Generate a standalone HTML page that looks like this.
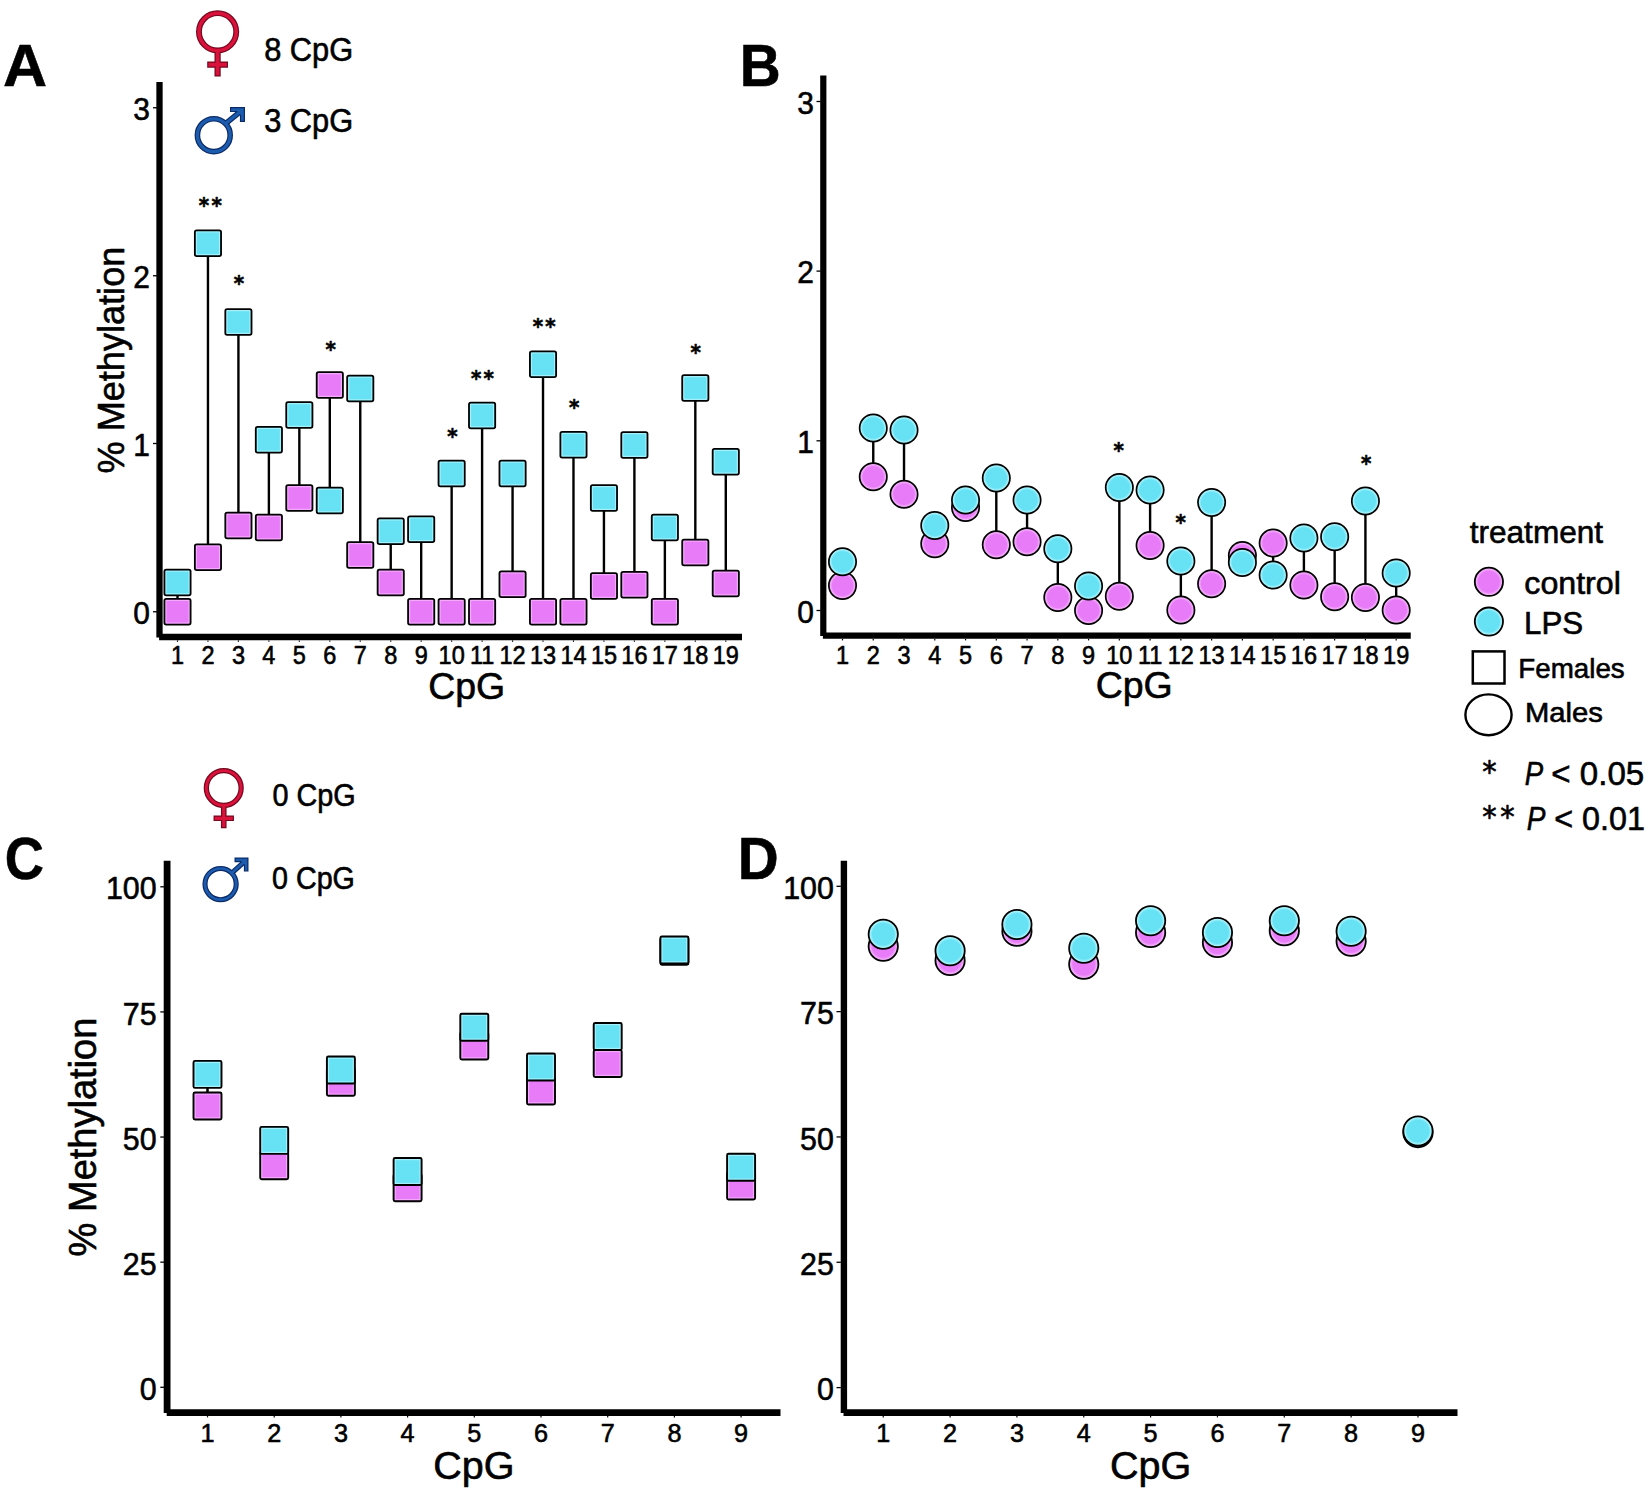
<!DOCTYPE html>
<html lang="en"><head><meta charset="utf-8"><title>CpG methylation figure</title>
<style>html,body{margin:0;padding:0;background:#fff}svg{display:block}text{fill:#000;stroke:#000;stroke-width:.6px;stroke-linejoin:round}</style></head>
<body>
<svg width="1649" height="1492" viewBox="0 0 1649 1492">
<rect width="1649" height="1492" fill="#fff"/>
<defs>
<radialGradient id="gc"><stop offset="0" stop-color="#66e2f4"/><stop offset=".74" stop-color="#66e2f4"/><stop offset=".9" stop-color="#a8f3fb"/><stop offset="1" stop-color="#a8f3fb"/></radialGradient>
<radialGradient id="gm"><stop offset="0" stop-color="#e87cf8"/><stop offset=".74" stop-color="#e87cf8"/><stop offset=".9" stop-color="#f4aefb"/><stop offset="1" stop-color="#f4aefb"/></radialGradient>
</defs>
<g id="panelA">
<line x1="177.50" y1="582.50" x2="177.50" y2="611.75" stroke="#000" stroke-width="2.4" stroke-linecap="butt"/>
<line x1="207.96" y1="243.20" x2="207.96" y2="557.25" stroke="#000" stroke-width="2.4" stroke-linecap="butt"/>
<line x1="238.42" y1="322.00" x2="238.42" y2="525.50" stroke="#000" stroke-width="2.4" stroke-linecap="butt"/>
<line x1="268.88" y1="439.75" x2="268.88" y2="527.50" stroke="#000" stroke-width="2.4" stroke-linecap="butt"/>
<line x1="299.34" y1="415.00" x2="299.34" y2="498.00" stroke="#000" stroke-width="2.4" stroke-linecap="butt"/>
<line x1="329.80" y1="500.50" x2="329.80" y2="385.00" stroke="#000" stroke-width="2.4" stroke-linecap="butt"/>
<line x1="360.26" y1="388.50" x2="360.26" y2="555.00" stroke="#000" stroke-width="2.4" stroke-linecap="butt"/>
<line x1="390.72" y1="531.25" x2="390.72" y2="582.50" stroke="#000" stroke-width="2.4" stroke-linecap="butt"/>
<line x1="421.18" y1="529.25" x2="421.18" y2="611.75" stroke="#000" stroke-width="2.4" stroke-linecap="butt"/>
<line x1="451.64" y1="473.50" x2="451.64" y2="611.75" stroke="#000" stroke-width="2.4" stroke-linecap="butt"/>
<line x1="482.10" y1="415.50" x2="482.10" y2="611.75" stroke="#000" stroke-width="2.4" stroke-linecap="butt"/>
<line x1="512.56" y1="473.50" x2="512.56" y2="584.25" stroke="#000" stroke-width="2.4" stroke-linecap="butt"/>
<line x1="543.02" y1="364.25" x2="543.02" y2="611.75" stroke="#000" stroke-width="2.4" stroke-linecap="butt"/>
<line x1="573.48" y1="444.75" x2="573.48" y2="611.75" stroke="#000" stroke-width="2.4" stroke-linecap="butt"/>
<line x1="603.94" y1="498.00" x2="603.94" y2="586.00" stroke="#000" stroke-width="2.4" stroke-linecap="butt"/>
<line x1="634.40" y1="445.00" x2="634.40" y2="584.75" stroke="#000" stroke-width="2.4" stroke-linecap="butt"/>
<line x1="664.86" y1="527.50" x2="664.86" y2="611.75" stroke="#000" stroke-width="2.4" stroke-linecap="butt"/>
<line x1="695.32" y1="388.00" x2="695.32" y2="552.50" stroke="#000" stroke-width="2.4" stroke-linecap="butt"/>
<line x1="725.78" y1="461.75" x2="725.78" y2="583.50" stroke="#000" stroke-width="2.4" stroke-linecap="butt"/>
<rect x="164.40" y="598.85" width="26.2" height="25.8" rx="1.8" fill="#e87cf8"/>
<rect x="165.90" y="600.35" width="23.20" height="22.80" fill="none" stroke="#f6b6fc" stroke-width="1.3" stroke-opacity=".8"/>
<rect x="164.40" y="598.85" width="26.2" height="25.8" rx="1.8" fill="none" stroke="#000" stroke-width="1.8"/>
<rect x="164.40" y="569.60" width="26.2" height="25.8" rx="1.8" fill="#66e2f4"/>
<rect x="165.90" y="571.10" width="23.20" height="22.80" fill="none" stroke="#b4f5fc" stroke-width="1.3" stroke-opacity=".8"/>
<rect x="164.40" y="569.60" width="26.2" height="25.8" rx="1.8" fill="none" stroke="#000" stroke-width="1.8"/>
<rect x="194.86" y="544.35" width="26.2" height="25.8" rx="1.8" fill="#e87cf8"/>
<rect x="196.36" y="545.85" width="23.20" height="22.80" fill="none" stroke="#f6b6fc" stroke-width="1.3" stroke-opacity=".8"/>
<rect x="194.86" y="544.35" width="26.2" height="25.8" rx="1.8" fill="none" stroke="#000" stroke-width="1.8"/>
<rect x="194.86" y="230.30" width="26.2" height="25.8" rx="1.8" fill="#66e2f4"/>
<rect x="196.36" y="231.80" width="23.20" height="22.80" fill="none" stroke="#b4f5fc" stroke-width="1.3" stroke-opacity=".8"/>
<rect x="194.86" y="230.30" width="26.2" height="25.8" rx="1.8" fill="none" stroke="#000" stroke-width="1.8"/>
<rect x="225.32" y="512.60" width="26.2" height="25.8" rx="1.8" fill="#e87cf8"/>
<rect x="226.82" y="514.10" width="23.20" height="22.80" fill="none" stroke="#f6b6fc" stroke-width="1.3" stroke-opacity=".8"/>
<rect x="225.32" y="512.60" width="26.2" height="25.8" rx="1.8" fill="none" stroke="#000" stroke-width="1.8"/>
<rect x="225.32" y="309.10" width="26.2" height="25.8" rx="1.8" fill="#66e2f4"/>
<rect x="226.82" y="310.60" width="23.20" height="22.80" fill="none" stroke="#b4f5fc" stroke-width="1.3" stroke-opacity=".8"/>
<rect x="225.32" y="309.10" width="26.2" height="25.8" rx="1.8" fill="none" stroke="#000" stroke-width="1.8"/>
<rect x="255.78" y="514.60" width="26.2" height="25.8" rx="1.8" fill="#e87cf8"/>
<rect x="257.28" y="516.10" width="23.20" height="22.80" fill="none" stroke="#f6b6fc" stroke-width="1.3" stroke-opacity=".8"/>
<rect x="255.78" y="514.60" width="26.2" height="25.8" rx="1.8" fill="none" stroke="#000" stroke-width="1.8"/>
<rect x="255.78" y="426.85" width="26.2" height="25.8" rx="1.8" fill="#66e2f4"/>
<rect x="257.28" y="428.35" width="23.20" height="22.80" fill="none" stroke="#b4f5fc" stroke-width="1.3" stroke-opacity=".8"/>
<rect x="255.78" y="426.85" width="26.2" height="25.8" rx="1.8" fill="none" stroke="#000" stroke-width="1.8"/>
<rect x="286.24" y="485.10" width="26.2" height="25.8" rx="1.8" fill="#e87cf8"/>
<rect x="287.74" y="486.60" width="23.20" height="22.80" fill="none" stroke="#f6b6fc" stroke-width="1.3" stroke-opacity=".8"/>
<rect x="286.24" y="485.10" width="26.2" height="25.8" rx="1.8" fill="none" stroke="#000" stroke-width="1.8"/>
<rect x="286.24" y="402.10" width="26.2" height="25.8" rx="1.8" fill="#66e2f4"/>
<rect x="287.74" y="403.60" width="23.20" height="22.80" fill="none" stroke="#b4f5fc" stroke-width="1.3" stroke-opacity=".8"/>
<rect x="286.24" y="402.10" width="26.2" height="25.8" rx="1.8" fill="none" stroke="#000" stroke-width="1.8"/>
<rect x="316.70" y="372.10" width="26.2" height="25.8" rx="1.8" fill="#e87cf8"/>
<rect x="318.20" y="373.60" width="23.20" height="22.80" fill="none" stroke="#f6b6fc" stroke-width="1.3" stroke-opacity=".8"/>
<rect x="316.70" y="372.10" width="26.2" height="25.8" rx="1.8" fill="none" stroke="#000" stroke-width="1.8"/>
<rect x="316.70" y="487.60" width="26.2" height="25.8" rx="1.8" fill="#66e2f4"/>
<rect x="318.20" y="489.10" width="23.20" height="22.80" fill="none" stroke="#b4f5fc" stroke-width="1.3" stroke-opacity=".8"/>
<rect x="316.70" y="487.60" width="26.2" height="25.8" rx="1.8" fill="none" stroke="#000" stroke-width="1.8"/>
<rect x="347.16" y="542.10" width="26.2" height="25.8" rx="1.8" fill="#e87cf8"/>
<rect x="348.66" y="543.60" width="23.20" height="22.80" fill="none" stroke="#f6b6fc" stroke-width="1.3" stroke-opacity=".8"/>
<rect x="347.16" y="542.10" width="26.2" height="25.8" rx="1.8" fill="none" stroke="#000" stroke-width="1.8"/>
<rect x="347.16" y="375.60" width="26.2" height="25.8" rx="1.8" fill="#66e2f4"/>
<rect x="348.66" y="377.10" width="23.20" height="22.80" fill="none" stroke="#b4f5fc" stroke-width="1.3" stroke-opacity=".8"/>
<rect x="347.16" y="375.60" width="26.2" height="25.8" rx="1.8" fill="none" stroke="#000" stroke-width="1.8"/>
<rect x="377.62" y="569.60" width="26.2" height="25.8" rx="1.8" fill="#e87cf8"/>
<rect x="379.12" y="571.10" width="23.20" height="22.80" fill="none" stroke="#f6b6fc" stroke-width="1.3" stroke-opacity=".8"/>
<rect x="377.62" y="569.60" width="26.2" height="25.8" rx="1.8" fill="none" stroke="#000" stroke-width="1.8"/>
<rect x="377.62" y="518.35" width="26.2" height="25.8" rx="1.8" fill="#66e2f4"/>
<rect x="379.12" y="519.85" width="23.20" height="22.80" fill="none" stroke="#b4f5fc" stroke-width="1.3" stroke-opacity=".8"/>
<rect x="377.62" y="518.35" width="26.2" height="25.8" rx="1.8" fill="none" stroke="#000" stroke-width="1.8"/>
<rect x="408.08" y="598.85" width="26.2" height="25.8" rx="1.8" fill="#e87cf8"/>
<rect x="409.58" y="600.35" width="23.20" height="22.80" fill="none" stroke="#f6b6fc" stroke-width="1.3" stroke-opacity=".8"/>
<rect x="408.08" y="598.85" width="26.2" height="25.8" rx="1.8" fill="none" stroke="#000" stroke-width="1.8"/>
<rect x="408.08" y="516.35" width="26.2" height="25.8" rx="1.8" fill="#66e2f4"/>
<rect x="409.58" y="517.85" width="23.20" height="22.80" fill="none" stroke="#b4f5fc" stroke-width="1.3" stroke-opacity=".8"/>
<rect x="408.08" y="516.35" width="26.2" height="25.8" rx="1.8" fill="none" stroke="#000" stroke-width="1.8"/>
<rect x="438.54" y="598.85" width="26.2" height="25.8" rx="1.8" fill="#e87cf8"/>
<rect x="440.04" y="600.35" width="23.20" height="22.80" fill="none" stroke="#f6b6fc" stroke-width="1.3" stroke-opacity=".8"/>
<rect x="438.54" y="598.85" width="26.2" height="25.8" rx="1.8" fill="none" stroke="#000" stroke-width="1.8"/>
<rect x="438.54" y="460.60" width="26.2" height="25.8" rx="1.8" fill="#66e2f4"/>
<rect x="440.04" y="462.10" width="23.20" height="22.80" fill="none" stroke="#b4f5fc" stroke-width="1.3" stroke-opacity=".8"/>
<rect x="438.54" y="460.60" width="26.2" height="25.8" rx="1.8" fill="none" stroke="#000" stroke-width="1.8"/>
<rect x="469.00" y="598.85" width="26.2" height="25.8" rx="1.8" fill="#e87cf8"/>
<rect x="470.50" y="600.35" width="23.20" height="22.80" fill="none" stroke="#f6b6fc" stroke-width="1.3" stroke-opacity=".8"/>
<rect x="469.00" y="598.85" width="26.2" height="25.8" rx="1.8" fill="none" stroke="#000" stroke-width="1.8"/>
<rect x="469.00" y="402.60" width="26.2" height="25.8" rx="1.8" fill="#66e2f4"/>
<rect x="470.50" y="404.10" width="23.20" height="22.80" fill="none" stroke="#b4f5fc" stroke-width="1.3" stroke-opacity=".8"/>
<rect x="469.00" y="402.60" width="26.2" height="25.8" rx="1.8" fill="none" stroke="#000" stroke-width="1.8"/>
<rect x="499.46" y="571.35" width="26.2" height="25.8" rx="1.8" fill="#e87cf8"/>
<rect x="500.96" y="572.85" width="23.20" height="22.80" fill="none" stroke="#f6b6fc" stroke-width="1.3" stroke-opacity=".8"/>
<rect x="499.46" y="571.35" width="26.2" height="25.8" rx="1.8" fill="none" stroke="#000" stroke-width="1.8"/>
<rect x="499.46" y="460.60" width="26.2" height="25.8" rx="1.8" fill="#66e2f4"/>
<rect x="500.96" y="462.10" width="23.20" height="22.80" fill="none" stroke="#b4f5fc" stroke-width="1.3" stroke-opacity=".8"/>
<rect x="499.46" y="460.60" width="26.2" height="25.8" rx="1.8" fill="none" stroke="#000" stroke-width="1.8"/>
<rect x="529.92" y="598.85" width="26.2" height="25.8" rx="1.8" fill="#e87cf8"/>
<rect x="531.42" y="600.35" width="23.20" height="22.80" fill="none" stroke="#f6b6fc" stroke-width="1.3" stroke-opacity=".8"/>
<rect x="529.92" y="598.85" width="26.2" height="25.8" rx="1.8" fill="none" stroke="#000" stroke-width="1.8"/>
<rect x="529.92" y="351.35" width="26.2" height="25.8" rx="1.8" fill="#66e2f4"/>
<rect x="531.42" y="352.85" width="23.20" height="22.80" fill="none" stroke="#b4f5fc" stroke-width="1.3" stroke-opacity=".8"/>
<rect x="529.92" y="351.35" width="26.2" height="25.8" rx="1.8" fill="none" stroke="#000" stroke-width="1.8"/>
<rect x="560.38" y="598.85" width="26.2" height="25.8" rx="1.8" fill="#e87cf8"/>
<rect x="561.88" y="600.35" width="23.20" height="22.80" fill="none" stroke="#f6b6fc" stroke-width="1.3" stroke-opacity=".8"/>
<rect x="560.38" y="598.85" width="26.2" height="25.8" rx="1.8" fill="none" stroke="#000" stroke-width="1.8"/>
<rect x="560.38" y="431.85" width="26.2" height="25.8" rx="1.8" fill="#66e2f4"/>
<rect x="561.88" y="433.35" width="23.20" height="22.80" fill="none" stroke="#b4f5fc" stroke-width="1.3" stroke-opacity=".8"/>
<rect x="560.38" y="431.85" width="26.2" height="25.8" rx="1.8" fill="none" stroke="#000" stroke-width="1.8"/>
<rect x="590.84" y="573.10" width="26.2" height="25.8" rx="1.8" fill="#e87cf8"/>
<rect x="592.34" y="574.60" width="23.20" height="22.80" fill="none" stroke="#f6b6fc" stroke-width="1.3" stroke-opacity=".8"/>
<rect x="590.84" y="573.10" width="26.2" height="25.8" rx="1.8" fill="none" stroke="#000" stroke-width="1.8"/>
<rect x="590.84" y="485.10" width="26.2" height="25.8" rx="1.8" fill="#66e2f4"/>
<rect x="592.34" y="486.60" width="23.20" height="22.80" fill="none" stroke="#b4f5fc" stroke-width="1.3" stroke-opacity=".8"/>
<rect x="590.84" y="485.10" width="26.2" height="25.8" rx="1.8" fill="none" stroke="#000" stroke-width="1.8"/>
<rect x="621.30" y="571.85" width="26.2" height="25.8" rx="1.8" fill="#e87cf8"/>
<rect x="622.80" y="573.35" width="23.20" height="22.80" fill="none" stroke="#f6b6fc" stroke-width="1.3" stroke-opacity=".8"/>
<rect x="621.30" y="571.85" width="26.2" height="25.8" rx="1.8" fill="none" stroke="#000" stroke-width="1.8"/>
<rect x="621.30" y="432.10" width="26.2" height="25.8" rx="1.8" fill="#66e2f4"/>
<rect x="622.80" y="433.60" width="23.20" height="22.80" fill="none" stroke="#b4f5fc" stroke-width="1.3" stroke-opacity=".8"/>
<rect x="621.30" y="432.10" width="26.2" height="25.8" rx="1.8" fill="none" stroke="#000" stroke-width="1.8"/>
<rect x="651.76" y="598.85" width="26.2" height="25.8" rx="1.8" fill="#e87cf8"/>
<rect x="653.26" y="600.35" width="23.20" height="22.80" fill="none" stroke="#f6b6fc" stroke-width="1.3" stroke-opacity=".8"/>
<rect x="651.76" y="598.85" width="26.2" height="25.8" rx="1.8" fill="none" stroke="#000" stroke-width="1.8"/>
<rect x="651.76" y="514.60" width="26.2" height="25.8" rx="1.8" fill="#66e2f4"/>
<rect x="653.26" y="516.10" width="23.20" height="22.80" fill="none" stroke="#b4f5fc" stroke-width="1.3" stroke-opacity=".8"/>
<rect x="651.76" y="514.60" width="26.2" height="25.8" rx="1.8" fill="none" stroke="#000" stroke-width="1.8"/>
<rect x="682.22" y="539.60" width="26.2" height="25.8" rx="1.8" fill="#e87cf8"/>
<rect x="683.72" y="541.10" width="23.20" height="22.80" fill="none" stroke="#f6b6fc" stroke-width="1.3" stroke-opacity=".8"/>
<rect x="682.22" y="539.60" width="26.2" height="25.8" rx="1.8" fill="none" stroke="#000" stroke-width="1.8"/>
<rect x="682.22" y="375.10" width="26.2" height="25.8" rx="1.8" fill="#66e2f4"/>
<rect x="683.72" y="376.60" width="23.20" height="22.80" fill="none" stroke="#b4f5fc" stroke-width="1.3" stroke-opacity=".8"/>
<rect x="682.22" y="375.10" width="26.2" height="25.8" rx="1.8" fill="none" stroke="#000" stroke-width="1.8"/>
<rect x="712.68" y="570.60" width="26.2" height="25.8" rx="1.8" fill="#e87cf8"/>
<rect x="714.18" y="572.10" width="23.20" height="22.80" fill="none" stroke="#f6b6fc" stroke-width="1.3" stroke-opacity=".8"/>
<rect x="712.68" y="570.60" width="26.2" height="25.8" rx="1.8" fill="none" stroke="#000" stroke-width="1.8"/>
<rect x="712.68" y="448.85" width="26.2" height="25.8" rx="1.8" fill="#66e2f4"/>
<rect x="714.18" y="450.35" width="23.20" height="22.80" fill="none" stroke="#b4f5fc" stroke-width="1.3" stroke-opacity=".8"/>
<rect x="712.68" y="448.85" width="26.2" height="25.8" rx="1.8" fill="none" stroke="#000" stroke-width="1.8"/>
<line x1="159.50" y1="82.00" x2="159.50" y2="637.40" stroke="#000" stroke-width="6.3"/>
<line x1="159.10" y1="637.00" x2="742.00" y2="637.00" stroke="#000" stroke-width="6.7"/>
<line x1="153.00" y1="611.75" x2="157.00" y2="611.75" stroke="#000" stroke-width="1.3" stroke-linecap="butt"/>
<line x1="153.00" y1="443.50" x2="157.00" y2="443.50" stroke="#000" stroke-width="1.3" stroke-linecap="butt"/>
<line x1="153.00" y1="275.75" x2="157.00" y2="275.75" stroke="#000" stroke-width="1.3" stroke-linecap="butt"/>
<line x1="153.00" y1="107.75" x2="157.00" y2="107.75" stroke="#000" stroke-width="1.3" stroke-linecap="butt"/>
<line x1="177.50" y1="640.40" x2="177.50" y2="641.80" stroke="#000" stroke-width="1.2" stroke-linecap="butt"/>
<line x1="207.96" y1="640.40" x2="207.96" y2="641.80" stroke="#000" stroke-width="1.2" stroke-linecap="butt"/>
<line x1="238.42" y1="640.40" x2="238.42" y2="641.80" stroke="#000" stroke-width="1.2" stroke-linecap="butt"/>
<line x1="268.88" y1="640.40" x2="268.88" y2="641.80" stroke="#000" stroke-width="1.2" stroke-linecap="butt"/>
<line x1="299.34" y1="640.40" x2="299.34" y2="641.80" stroke="#000" stroke-width="1.2" stroke-linecap="butt"/>
<line x1="329.80" y1="640.40" x2="329.80" y2="641.80" stroke="#000" stroke-width="1.2" stroke-linecap="butt"/>
<line x1="360.26" y1="640.40" x2="360.26" y2="641.80" stroke="#000" stroke-width="1.2" stroke-linecap="butt"/>
<line x1="390.72" y1="640.40" x2="390.72" y2="641.80" stroke="#000" stroke-width="1.2" stroke-linecap="butt"/>
<line x1="421.18" y1="640.40" x2="421.18" y2="641.80" stroke="#000" stroke-width="1.2" stroke-linecap="butt"/>
<line x1="451.64" y1="640.40" x2="451.64" y2="641.80" stroke="#000" stroke-width="1.2" stroke-linecap="butt"/>
<line x1="482.10" y1="640.40" x2="482.10" y2="641.80" stroke="#000" stroke-width="1.2" stroke-linecap="butt"/>
<line x1="512.56" y1="640.40" x2="512.56" y2="641.80" stroke="#000" stroke-width="1.2" stroke-linecap="butt"/>
<line x1="543.02" y1="640.40" x2="543.02" y2="641.80" stroke="#000" stroke-width="1.2" stroke-linecap="butt"/>
<line x1="573.48" y1="640.40" x2="573.48" y2="641.80" stroke="#000" stroke-width="1.2" stroke-linecap="butt"/>
<line x1="603.94" y1="640.40" x2="603.94" y2="641.80" stroke="#000" stroke-width="1.2" stroke-linecap="butt"/>
<line x1="634.40" y1="640.40" x2="634.40" y2="641.80" stroke="#000" stroke-width="1.2" stroke-linecap="butt"/>
<line x1="664.86" y1="640.40" x2="664.86" y2="641.80" stroke="#000" stroke-width="1.2" stroke-linecap="butt"/>
<line x1="695.32" y1="640.40" x2="695.32" y2="641.80" stroke="#000" stroke-width="1.2" stroke-linecap="butt"/>
<line x1="725.78" y1="640.40" x2="725.78" y2="641.80" stroke="#000" stroke-width="1.2" stroke-linecap="butt"/>
</g>
<g id="panelB">
<line x1="842.50" y1="561.75" x2="842.50" y2="585.50" stroke="#000" stroke-width="2.4" stroke-linecap="butt"/>
<line x1="873.26" y1="428.00" x2="873.26" y2="476.75" stroke="#000" stroke-width="2.4" stroke-linecap="butt"/>
<line x1="904.02" y1="430.00" x2="904.02" y2="494.25" stroke="#000" stroke-width="2.4" stroke-linecap="butt"/>
<line x1="934.78" y1="525.50" x2="934.78" y2="543.75" stroke="#000" stroke-width="2.4" stroke-linecap="butt"/>
<line x1="965.54" y1="500.00" x2="965.54" y2="507.50" stroke="#000" stroke-width="2.4" stroke-linecap="butt"/>
<line x1="996.30" y1="478.00" x2="996.30" y2="544.75" stroke="#000" stroke-width="2.4" stroke-linecap="butt"/>
<line x1="1027.06" y1="500.00" x2="1027.06" y2="541.75" stroke="#000" stroke-width="2.4" stroke-linecap="butt"/>
<line x1="1057.82" y1="548.75" x2="1057.82" y2="597.50" stroke="#000" stroke-width="2.4" stroke-linecap="butt"/>
<line x1="1088.58" y1="586.00" x2="1088.58" y2="610.50" stroke="#000" stroke-width="2.4" stroke-linecap="butt"/>
<line x1="1119.34" y1="487.50" x2="1119.34" y2="596.25" stroke="#000" stroke-width="2.4" stroke-linecap="butt"/>
<line x1="1150.10" y1="490.00" x2="1150.10" y2="545.50" stroke="#000" stroke-width="2.4" stroke-linecap="butt"/>
<line x1="1180.86" y1="561.00" x2="1180.86" y2="610.00" stroke="#000" stroke-width="2.4" stroke-linecap="butt"/>
<line x1="1211.62" y1="502.50" x2="1211.62" y2="583.75" stroke="#000" stroke-width="2.4" stroke-linecap="butt"/>
<line x1="1242.38" y1="562.50" x2="1242.38" y2="555.50" stroke="#000" stroke-width="2.4" stroke-linecap="butt"/>
<line x1="1273.14" y1="575.00" x2="1273.14" y2="543.00" stroke="#000" stroke-width="2.4" stroke-linecap="butt"/>
<line x1="1303.90" y1="538.00" x2="1303.90" y2="585.00" stroke="#000" stroke-width="2.4" stroke-linecap="butt"/>
<line x1="1334.66" y1="536.75" x2="1334.66" y2="596.75" stroke="#000" stroke-width="2.4" stroke-linecap="butt"/>
<line x1="1365.42" y1="501.00" x2="1365.42" y2="597.50" stroke="#000" stroke-width="2.4" stroke-linecap="butt"/>
<line x1="1396.18" y1="573.00" x2="1396.18" y2="610.00" stroke="#000" stroke-width="2.4" stroke-linecap="butt"/>
<circle cx="842.50" cy="585.50" r="13.65" fill="url(#gm)" stroke="#000" stroke-width="1.7"/>
<circle cx="842.50" cy="561.75" r="13.65" fill="url(#gc)" stroke="#000" stroke-width="1.7"/>
<circle cx="873.26" cy="476.75" r="13.65" fill="url(#gm)" stroke="#000" stroke-width="1.7"/>
<circle cx="873.26" cy="428.00" r="13.65" fill="url(#gc)" stroke="#000" stroke-width="1.7"/>
<circle cx="904.02" cy="494.25" r="13.65" fill="url(#gm)" stroke="#000" stroke-width="1.7"/>
<circle cx="904.02" cy="430.00" r="13.65" fill="url(#gc)" stroke="#000" stroke-width="1.7"/>
<circle cx="934.78" cy="543.75" r="13.65" fill="url(#gm)" stroke="#000" stroke-width="1.7"/>
<circle cx="934.78" cy="525.50" r="13.65" fill="url(#gc)" stroke="#000" stroke-width="1.7"/>
<circle cx="965.54" cy="507.50" r="13.65" fill="url(#gm)" stroke="#000" stroke-width="1.7"/>
<circle cx="965.54" cy="500.00" r="13.65" fill="url(#gc)" stroke="#000" stroke-width="1.7"/>
<circle cx="996.30" cy="544.75" r="13.65" fill="url(#gm)" stroke="#000" stroke-width="1.7"/>
<circle cx="996.30" cy="478.00" r="13.65" fill="url(#gc)" stroke="#000" stroke-width="1.7"/>
<circle cx="1027.06" cy="541.75" r="13.65" fill="url(#gm)" stroke="#000" stroke-width="1.7"/>
<circle cx="1027.06" cy="500.00" r="13.65" fill="url(#gc)" stroke="#000" stroke-width="1.7"/>
<circle cx="1057.82" cy="597.50" r="13.65" fill="url(#gm)" stroke="#000" stroke-width="1.7"/>
<circle cx="1057.82" cy="548.75" r="13.65" fill="url(#gc)" stroke="#000" stroke-width="1.7"/>
<circle cx="1088.58" cy="610.50" r="13.65" fill="url(#gm)" stroke="#000" stroke-width="1.7"/>
<circle cx="1088.58" cy="586.00" r="13.65" fill="url(#gc)" stroke="#000" stroke-width="1.7"/>
<circle cx="1119.34" cy="596.25" r="13.65" fill="url(#gm)" stroke="#000" stroke-width="1.7"/>
<circle cx="1119.34" cy="487.50" r="13.65" fill="url(#gc)" stroke="#000" stroke-width="1.7"/>
<circle cx="1150.10" cy="545.50" r="13.65" fill="url(#gm)" stroke="#000" stroke-width="1.7"/>
<circle cx="1150.10" cy="490.00" r="13.65" fill="url(#gc)" stroke="#000" stroke-width="1.7"/>
<circle cx="1180.86" cy="610.00" r="13.65" fill="url(#gm)" stroke="#000" stroke-width="1.7"/>
<circle cx="1180.86" cy="561.00" r="13.65" fill="url(#gc)" stroke="#000" stroke-width="1.7"/>
<circle cx="1211.62" cy="583.75" r="13.65" fill="url(#gm)" stroke="#000" stroke-width="1.7"/>
<circle cx="1211.62" cy="502.50" r="13.65" fill="url(#gc)" stroke="#000" stroke-width="1.7"/>
<circle cx="1242.38" cy="555.50" r="13.65" fill="url(#gm)" stroke="#000" stroke-width="1.7"/>
<circle cx="1242.38" cy="562.50" r="13.65" fill="url(#gc)" stroke="#000" stroke-width="1.7"/>
<circle cx="1273.14" cy="543.00" r="13.65" fill="url(#gm)" stroke="#000" stroke-width="1.7"/>
<circle cx="1273.14" cy="575.00" r="13.65" fill="url(#gc)" stroke="#000" stroke-width="1.7"/>
<circle cx="1303.90" cy="585.00" r="13.65" fill="url(#gm)" stroke="#000" stroke-width="1.7"/>
<circle cx="1303.90" cy="538.00" r="13.65" fill="url(#gc)" stroke="#000" stroke-width="1.7"/>
<circle cx="1334.66" cy="596.75" r="13.65" fill="url(#gm)" stroke="#000" stroke-width="1.7"/>
<circle cx="1334.66" cy="536.75" r="13.65" fill="url(#gc)" stroke="#000" stroke-width="1.7"/>
<circle cx="1365.42" cy="597.50" r="13.65" fill="url(#gm)" stroke="#000" stroke-width="1.7"/>
<circle cx="1365.42" cy="501.00" r="13.65" fill="url(#gc)" stroke="#000" stroke-width="1.7"/>
<circle cx="1396.18" cy="610.00" r="13.65" fill="url(#gm)" stroke="#000" stroke-width="1.7"/>
<circle cx="1396.18" cy="573.00" r="13.65" fill="url(#gc)" stroke="#000" stroke-width="1.7"/>
<line x1="823.30" y1="75.50" x2="823.30" y2="636.00" stroke="#000" stroke-width="6.2"/>
<line x1="822.90" y1="635.60" x2="1410.75" y2="635.60" stroke="#000" stroke-width="6.1"/>
<line x1="816.50" y1="610.50" x2="820.70" y2="610.50" stroke="#000" stroke-width="1.3" stroke-linecap="butt"/>
<line x1="816.50" y1="440.80" x2="820.70" y2="440.80" stroke="#000" stroke-width="1.3" stroke-linecap="butt"/>
<line x1="816.50" y1="271.10" x2="820.70" y2="271.10" stroke="#000" stroke-width="1.3" stroke-linecap="butt"/>
<line x1="816.50" y1="101.50" x2="820.70" y2="101.50" stroke="#000" stroke-width="1.3" stroke-linecap="butt"/>
<line x1="842.50" y1="639.00" x2="842.50" y2="640.40" stroke="#000" stroke-width="1.2" stroke-linecap="butt"/>
<line x1="873.26" y1="639.00" x2="873.26" y2="640.40" stroke="#000" stroke-width="1.2" stroke-linecap="butt"/>
<line x1="904.02" y1="639.00" x2="904.02" y2="640.40" stroke="#000" stroke-width="1.2" stroke-linecap="butt"/>
<line x1="934.78" y1="639.00" x2="934.78" y2="640.40" stroke="#000" stroke-width="1.2" stroke-linecap="butt"/>
<line x1="965.54" y1="639.00" x2="965.54" y2="640.40" stroke="#000" stroke-width="1.2" stroke-linecap="butt"/>
<line x1="996.30" y1="639.00" x2="996.30" y2="640.40" stroke="#000" stroke-width="1.2" stroke-linecap="butt"/>
<line x1="1027.06" y1="639.00" x2="1027.06" y2="640.40" stroke="#000" stroke-width="1.2" stroke-linecap="butt"/>
<line x1="1057.82" y1="639.00" x2="1057.82" y2="640.40" stroke="#000" stroke-width="1.2" stroke-linecap="butt"/>
<line x1="1088.58" y1="639.00" x2="1088.58" y2="640.40" stroke="#000" stroke-width="1.2" stroke-linecap="butt"/>
<line x1="1119.34" y1="639.00" x2="1119.34" y2="640.40" stroke="#000" stroke-width="1.2" stroke-linecap="butt"/>
<line x1="1150.10" y1="639.00" x2="1150.10" y2="640.40" stroke="#000" stroke-width="1.2" stroke-linecap="butt"/>
<line x1="1180.86" y1="639.00" x2="1180.86" y2="640.40" stroke="#000" stroke-width="1.2" stroke-linecap="butt"/>
<line x1="1211.62" y1="639.00" x2="1211.62" y2="640.40" stroke="#000" stroke-width="1.2" stroke-linecap="butt"/>
<line x1="1242.38" y1="639.00" x2="1242.38" y2="640.40" stroke="#000" stroke-width="1.2" stroke-linecap="butt"/>
<line x1="1273.14" y1="639.00" x2="1273.14" y2="640.40" stroke="#000" stroke-width="1.2" stroke-linecap="butt"/>
<line x1="1303.90" y1="639.00" x2="1303.90" y2="640.40" stroke="#000" stroke-width="1.2" stroke-linecap="butt"/>
<line x1="1334.66" y1="639.00" x2="1334.66" y2="640.40" stroke="#000" stroke-width="1.2" stroke-linecap="butt"/>
<line x1="1365.42" y1="639.00" x2="1365.42" y2="640.40" stroke="#000" stroke-width="1.2" stroke-linecap="butt"/>
<line x1="1396.18" y1="639.00" x2="1396.18" y2="640.40" stroke="#000" stroke-width="1.2" stroke-linecap="butt"/>
</g>
<g id="panelC">
<line x1="207.50" y1="1074.40" x2="207.50" y2="1106.00" stroke="#000" stroke-width="2.5" stroke-linecap="butt"/>
<rect x="193.50" y="1092.50" width="28.0" height="27.0" rx="1.5" fill="#e87cf8"/>
<rect x="195.05" y="1094.05" width="24.90" height="23.90" fill="none" stroke="#f6b6fc" stroke-width="1.3" stroke-opacity=".8"/>
<rect x="193.50" y="1092.50" width="28.0" height="27.0" rx="1.5" fill="none" stroke="#000" stroke-width="1.9"/>
<rect x="193.50" y="1060.90" width="28.0" height="27.0" rx="1.5" fill="#66e2f4"/>
<rect x="195.05" y="1062.45" width="24.90" height="23.90" fill="none" stroke="#b4f5fc" stroke-width="1.3" stroke-opacity=".8"/>
<rect x="193.50" y="1060.90" width="28.0" height="27.0" rx="1.5" fill="none" stroke="#000" stroke-width="1.9"/>
<rect x="260.20" y="1152.25" width="28.0" height="27.0" rx="1.5" fill="#e87cf8"/>
<rect x="261.75" y="1153.80" width="24.90" height="23.90" fill="none" stroke="#f6b6fc" stroke-width="1.3" stroke-opacity=".8"/>
<rect x="260.20" y="1152.25" width="28.0" height="27.0" rx="1.5" fill="none" stroke="#000" stroke-width="1.9"/>
<rect x="260.20" y="1126.90" width="28.0" height="27.0" rx="1.5" fill="#66e2f4"/>
<rect x="261.75" y="1128.45" width="24.90" height="23.90" fill="none" stroke="#b4f5fc" stroke-width="1.3" stroke-opacity=".8"/>
<rect x="260.20" y="1126.90" width="28.0" height="27.0" rx="1.5" fill="none" stroke="#000" stroke-width="1.9"/>
<rect x="326.90" y="1068.75" width="28.0" height="27.0" rx="1.5" fill="#e87cf8"/>
<rect x="328.45" y="1070.30" width="24.90" height="23.90" fill="none" stroke="#f6b6fc" stroke-width="1.3" stroke-opacity=".8"/>
<rect x="326.90" y="1068.75" width="28.0" height="27.0" rx="1.5" fill="none" stroke="#000" stroke-width="1.9"/>
<rect x="326.90" y="1056.50" width="28.0" height="27.0" rx="1.5" fill="#66e2f4"/>
<rect x="328.45" y="1058.05" width="24.90" height="23.90" fill="none" stroke="#b4f5fc" stroke-width="1.3" stroke-opacity=".8"/>
<rect x="326.90" y="1056.50" width="28.0" height="27.0" rx="1.5" fill="none" stroke="#000" stroke-width="1.9"/>
<rect x="393.60" y="1174.25" width="28.0" height="27.0" rx="1.5" fill="#e87cf8"/>
<rect x="395.15" y="1175.80" width="24.90" height="23.90" fill="none" stroke="#f6b6fc" stroke-width="1.3" stroke-opacity=".8"/>
<rect x="393.60" y="1174.25" width="28.0" height="27.0" rx="1.5" fill="none" stroke="#000" stroke-width="1.9"/>
<rect x="393.60" y="1158.00" width="28.0" height="27.0" rx="1.5" fill="#66e2f4"/>
<rect x="395.15" y="1159.55" width="24.90" height="23.90" fill="none" stroke="#b4f5fc" stroke-width="1.3" stroke-opacity=".8"/>
<rect x="393.60" y="1158.00" width="28.0" height="27.0" rx="1.5" fill="none" stroke="#000" stroke-width="1.9"/>
<rect x="460.30" y="1032.50" width="28.0" height="27.0" rx="1.5" fill="#e87cf8"/>
<rect x="461.85" y="1034.05" width="24.90" height="23.90" fill="none" stroke="#f6b6fc" stroke-width="1.3" stroke-opacity=".8"/>
<rect x="460.30" y="1032.50" width="28.0" height="27.0" rx="1.5" fill="none" stroke="#000" stroke-width="1.9"/>
<rect x="460.30" y="1013.75" width="28.0" height="27.0" rx="1.5" fill="#66e2f4"/>
<rect x="461.85" y="1015.30" width="24.90" height="23.90" fill="none" stroke="#b4f5fc" stroke-width="1.3" stroke-opacity=".8"/>
<rect x="460.30" y="1013.75" width="28.0" height="27.0" rx="1.5" fill="none" stroke="#000" stroke-width="1.9"/>
<rect x="527.00" y="1077.50" width="28.0" height="27.0" rx="1.5" fill="#e87cf8"/>
<rect x="528.55" y="1079.05" width="24.90" height="23.90" fill="none" stroke="#f6b6fc" stroke-width="1.3" stroke-opacity=".8"/>
<rect x="527.00" y="1077.50" width="28.0" height="27.0" rx="1.5" fill="none" stroke="#000" stroke-width="1.9"/>
<rect x="527.00" y="1053.50" width="28.0" height="27.0" rx="1.5" fill="#66e2f4"/>
<rect x="528.55" y="1055.05" width="24.90" height="23.90" fill="none" stroke="#b4f5fc" stroke-width="1.3" stroke-opacity=".8"/>
<rect x="527.00" y="1053.50" width="28.0" height="27.0" rx="1.5" fill="none" stroke="#000" stroke-width="1.9"/>
<rect x="593.70" y="1050.00" width="28.0" height="27.0" rx="1.5" fill="#e87cf8"/>
<rect x="595.25" y="1051.55" width="24.90" height="23.90" fill="none" stroke="#f6b6fc" stroke-width="1.3" stroke-opacity=".8"/>
<rect x="593.70" y="1050.00" width="28.0" height="27.0" rx="1.5" fill="none" stroke="#000" stroke-width="1.9"/>
<rect x="593.70" y="1023.00" width="28.0" height="27.0" rx="1.5" fill="#66e2f4"/>
<rect x="595.25" y="1024.55" width="24.90" height="23.90" fill="none" stroke="#b4f5fc" stroke-width="1.3" stroke-opacity=".8"/>
<rect x="593.70" y="1023.00" width="28.0" height="27.0" rx="1.5" fill="none" stroke="#000" stroke-width="1.9"/>
<rect x="660.40" y="937.80" width="28.0" height="27.0" rx="1.5" fill="#e87cf8"/>
<rect x="661.95" y="939.35" width="24.90" height="23.90" fill="none" stroke="#f6b6fc" stroke-width="1.3" stroke-opacity=".8"/>
<rect x="660.40" y="937.80" width="28.0" height="27.0" rx="1.5" fill="none" stroke="#000" stroke-width="1.9"/>
<rect x="660.40" y="936.50" width="28.0" height="27.0" rx="1.5" fill="#66e2f4"/>
<rect x="661.95" y="938.05" width="24.90" height="23.90" fill="none" stroke="#b4f5fc" stroke-width="1.3" stroke-opacity=".8"/>
<rect x="660.40" y="936.50" width="28.0" height="27.0" rx="1.5" fill="none" stroke="#000" stroke-width="1.9"/>
<rect x="727.10" y="1172.50" width="28.0" height="27.0" rx="1.5" fill="#e87cf8"/>
<rect x="728.65" y="1174.05" width="24.90" height="23.90" fill="none" stroke="#f6b6fc" stroke-width="1.3" stroke-opacity=".8"/>
<rect x="727.10" y="1172.50" width="28.0" height="27.0" rx="1.5" fill="none" stroke="#000" stroke-width="1.9"/>
<rect x="727.10" y="1153.75" width="28.0" height="27.0" rx="1.5" fill="#66e2f4"/>
<rect x="728.65" y="1155.30" width="24.90" height="23.90" fill="none" stroke="#b4f5fc" stroke-width="1.3" stroke-opacity=".8"/>
<rect x="727.10" y="1153.75" width="28.0" height="27.0" rx="1.5" fill="none" stroke="#000" stroke-width="1.9"/>
<line x1="167.10" y1="860.70" x2="167.10" y2="1413.10" stroke="#000" stroke-width="6.8"/>
<line x1="166.70" y1="1412.70" x2="780.50" y2="1412.70" stroke="#000" stroke-width="6.8"/>
<line x1="160.30" y1="1387.30" x2="164.50" y2="1387.30" stroke="#000" stroke-width="1.3" stroke-linecap="butt"/>
<line x1="160.30" y1="1262.17" x2="164.50" y2="1262.17" stroke="#000" stroke-width="1.3" stroke-linecap="butt"/>
<line x1="160.30" y1="1137.05" x2="164.50" y2="1137.05" stroke="#000" stroke-width="1.3" stroke-linecap="butt"/>
<line x1="160.30" y1="1011.92" x2="164.50" y2="1011.92" stroke="#000" stroke-width="1.3" stroke-linecap="butt"/>
<line x1="160.30" y1="886.80" x2="164.50" y2="886.80" stroke="#000" stroke-width="1.3" stroke-linecap="butt"/>
<line x1="207.50" y1="1416.10" x2="207.50" y2="1417.40" stroke="#000" stroke-width="1.2" stroke-linecap="butt"/>
<line x1="274.20" y1="1416.10" x2="274.20" y2="1417.40" stroke="#000" stroke-width="1.2" stroke-linecap="butt"/>
<line x1="340.90" y1="1416.10" x2="340.90" y2="1417.40" stroke="#000" stroke-width="1.2" stroke-linecap="butt"/>
<line x1="407.60" y1="1416.10" x2="407.60" y2="1417.40" stroke="#000" stroke-width="1.2" stroke-linecap="butt"/>
<line x1="474.30" y1="1416.10" x2="474.30" y2="1417.40" stroke="#000" stroke-width="1.2" stroke-linecap="butt"/>
<line x1="541.00" y1="1416.10" x2="541.00" y2="1417.40" stroke="#000" stroke-width="1.2" stroke-linecap="butt"/>
<line x1="607.70" y1="1416.10" x2="607.70" y2="1417.40" stroke="#000" stroke-width="1.2" stroke-linecap="butt"/>
<line x1="674.40" y1="1416.10" x2="674.40" y2="1417.40" stroke="#000" stroke-width="1.2" stroke-linecap="butt"/>
<line x1="741.10" y1="1416.10" x2="741.10" y2="1417.40" stroke="#000" stroke-width="1.2" stroke-linecap="butt"/>
</g>
<g id="panelD">
<circle cx="883.25" cy="946.25" r="14.65" fill="url(#gm)" stroke="#000" stroke-width="1.8"/>
<circle cx="883.25" cy="934.25" r="14.65" fill="url(#gc)" stroke="#000" stroke-width="1.8"/>
<circle cx="950.09" cy="960.50" r="14.65" fill="url(#gm)" stroke="#000" stroke-width="1.8"/>
<circle cx="950.09" cy="950.75" r="14.65" fill="url(#gc)" stroke="#000" stroke-width="1.8"/>
<circle cx="1016.93" cy="931.25" r="14.65" fill="url(#gm)" stroke="#000" stroke-width="1.8"/>
<circle cx="1016.93" cy="924.50" r="14.65" fill="url(#gc)" stroke="#000" stroke-width="1.8"/>
<circle cx="1083.77" cy="964.25" r="14.65" fill="url(#gm)" stroke="#000" stroke-width="1.8"/>
<circle cx="1083.77" cy="948.25" r="14.65" fill="url(#gc)" stroke="#000" stroke-width="1.8"/>
<circle cx="1150.61" cy="932.50" r="14.65" fill="url(#gm)" stroke="#000" stroke-width="1.8"/>
<circle cx="1150.61" cy="920.75" r="14.65" fill="url(#gc)" stroke="#000" stroke-width="1.8"/>
<circle cx="1217.45" cy="942.50" r="14.65" fill="url(#gm)" stroke="#000" stroke-width="1.8"/>
<circle cx="1217.45" cy="932.50" r="14.65" fill="url(#gc)" stroke="#000" stroke-width="1.8"/>
<circle cx="1284.29" cy="930.75" r="14.65" fill="url(#gm)" stroke="#000" stroke-width="1.8"/>
<circle cx="1284.29" cy="920.75" r="14.65" fill="url(#gc)" stroke="#000" stroke-width="1.8"/>
<circle cx="1351.13" cy="941.25" r="14.65" fill="url(#gm)" stroke="#000" stroke-width="1.8"/>
<circle cx="1351.13" cy="931.25" r="14.65" fill="url(#gc)" stroke="#000" stroke-width="1.8"/>
<circle cx="1417.97" cy="1132.60" r="14.65" fill="url(#gm)" stroke="#000" stroke-width="1.8"/>
<circle cx="1417.97" cy="1131.00" r="14.65" fill="url(#gc)" stroke="#000" stroke-width="1.8"/>
<line x1="843.90" y1="860.70" x2="843.90" y2="1413.10" stroke="#000" stroke-width="6.4"/>
<line x1="843.50" y1="1412.70" x2="1457.50" y2="1412.70" stroke="#000" stroke-width="6.8"/>
<line x1="836.50" y1="1387.60" x2="840.80" y2="1387.60" stroke="#000" stroke-width="1.3" stroke-linecap="butt"/>
<line x1="836.50" y1="1262.27" x2="840.80" y2="1262.27" stroke="#000" stroke-width="1.3" stroke-linecap="butt"/>
<line x1="836.50" y1="1136.95" x2="840.80" y2="1136.95" stroke="#000" stroke-width="1.3" stroke-linecap="butt"/>
<line x1="836.50" y1="1011.62" x2="840.80" y2="1011.62" stroke="#000" stroke-width="1.3" stroke-linecap="butt"/>
<line x1="836.50" y1="886.30" x2="840.80" y2="886.30" stroke="#000" stroke-width="1.3" stroke-linecap="butt"/>
<line x1="883.25" y1="1416.10" x2="883.25" y2="1417.40" stroke="#000" stroke-width="1.2" stroke-linecap="butt"/>
<line x1="950.09" y1="1416.10" x2="950.09" y2="1417.40" stroke="#000" stroke-width="1.2" stroke-linecap="butt"/>
<line x1="1016.93" y1="1416.10" x2="1016.93" y2="1417.40" stroke="#000" stroke-width="1.2" stroke-linecap="butt"/>
<line x1="1083.77" y1="1416.10" x2="1083.77" y2="1417.40" stroke="#000" stroke-width="1.2" stroke-linecap="butt"/>
<line x1="1150.61" y1="1416.10" x2="1150.61" y2="1417.40" stroke="#000" stroke-width="1.2" stroke-linecap="butt"/>
<line x1="1217.45" y1="1416.10" x2="1217.45" y2="1417.40" stroke="#000" stroke-width="1.2" stroke-linecap="butt"/>
<line x1="1284.29" y1="1416.10" x2="1284.29" y2="1417.40" stroke="#000" stroke-width="1.2" stroke-linecap="butt"/>
<line x1="1351.13" y1="1416.10" x2="1351.13" y2="1417.40" stroke="#000" stroke-width="1.2" stroke-linecap="butt"/>
<line x1="1417.97" y1="1416.10" x2="1417.97" y2="1417.40" stroke="#000" stroke-width="1.2" stroke-linecap="butt"/>
</g>
<g fill="none" stroke-linecap="butt">
<circle cx="217.6" cy="31.8" r="18.65" stroke="#74081e" stroke-width="5.9"/>
<path d="M217.6 50.45 V76.5 M207.20000000000002 64.7 H227.99999999999997" stroke="#74081e" stroke-width="6.2"/>
<circle cx="217.6" cy="31.8" r="18.65" stroke="#d8123a" stroke-width="3.5"/>
<path d="M217.6 48.95 V75.3 M208.4 64.7 H226.79999999999998" stroke="#d8123a" stroke-width="3.8"/>
</g>
<g fill="none" stroke-linecap="butt" stroke-linejoin="miter">
<circle cx="213.8" cy="135.2" r="16.4" stroke="#0b2a66" stroke-width="5.6000000000000005"/>
<path d="M224.69 124.31 L240.59 111.41" stroke="#0b2a66" stroke-width="5.6000000000000005"/>
<path d="M230.00 107.00 H245.00 V122.00 H239.92 V115.16 L236.84 112.08 H230.00 Z" fill="#0b2a66" stroke="none"/>
<circle cx="213.8" cy="135.2" r="16.4" stroke="#1c5cae" stroke-width="3.2"/>
<path d="M224.69 124.31 L240.59 111.41" stroke="#1c5cae" stroke-width="3.2"/>
<path d="M231.20 108.20 H243.80 V120.80 H241.12 V115.16 L236.84 110.88 H231.20 Z" fill="#1c5cae" stroke="none"/>
</g>
<g fill="none" stroke-linecap="butt">
<circle cx="223.75" cy="788" r="17.4" stroke="#74081e" stroke-width="5.300000000000001"/>
<path d="M223.75 805.4 V828.2 M213.55 818.3 H233.95" stroke="#74081e" stroke-width="5.6000000000000005"/>
<circle cx="223.75" cy="788" r="17.4" stroke="#d8123a" stroke-width="2.9000000000000004"/>
<path d="M223.75 803.9 V827.0 M214.75 818.3 H232.75" stroke="#d8123a" stroke-width="3.2"/>
</g>
<g fill="none" stroke-linecap="butt" stroke-linejoin="miter">
<circle cx="220.6" cy="884.1" r="15.6" stroke="#0b2a66" stroke-width="5.1000000000000005"/>
<path d="M230.92 873.78 L244.49 861.61" stroke="#0b2a66" stroke-width="5.1000000000000005"/>
<path d="M234.50 857.60 H248.50 V871.60 H243.87 V864.99 L241.11 862.23 H234.50 Z" fill="#0b2a66" stroke="none"/>
<circle cx="220.6" cy="884.1" r="15.6" stroke="#1c5cae" stroke-width="2.7"/>
<path d="M230.92 873.78 L244.49 861.61" stroke="#1c5cae" stroke-width="2.7"/>
<path d="M235.70 858.80 H247.30 V870.40 H245.07 V864.99 L241.11 861.03 H235.70 Z" fill="#1c5cae" stroke="none"/>
</g>
<circle cx="1488.90" cy="581.80" r="14.1" fill="url(#gm)" stroke="#000" stroke-width="1.8"/>
<circle cx="1488.90" cy="621.60" r="14.1" fill="url(#gc)" stroke="#000" stroke-width="1.8"/>
<rect x="1472.8" y="651.4" width="31.7" height="32.1" fill="#fff" stroke="#000" stroke-width="2.5"/>
<ellipse cx="1488.5" cy="714.8" rx="23.1" ry="20.4" fill="#fff" stroke="#000" stroke-width="2.4"/>
<text y="785.45" font-family="'Liberation Sans', sans-serif" font-size="33.2" stroke-width="0.45"><tspan x="1524.77" font-style="italic" textLength="18.40" lengthAdjust="spacingAndGlyphs">P</tspan> <tspan x="1551.35" textLength="92.89" lengthAdjust="spacingAndGlyphs">&lt; 0.05</tspan></text>
<text y="830.35" font-family="'Liberation Sans', sans-serif" font-size="33.2" stroke-width="0.45"><tspan x="1526.86" font-style="italic" textLength="18.70" lengthAdjust="spacingAndGlyphs">P</tspan> <tspan x="1554.19" textLength="90.72" lengthAdjust="spacingAndGlyphs">&lt; 0.01</tspan></text>
<text transform="translate(149.90,624.05) scale(0.95,1)" text-anchor="end" font-family="'Liberation Sans', sans-serif" font-size="31.5">0</text>
<text transform="translate(149.90,455.80) scale(0.95,1)" text-anchor="end" font-family="'Liberation Sans', sans-serif" font-size="31.5">1</text>
<text transform="translate(149.90,288.05) scale(0.95,1)" text-anchor="end" font-family="'Liberation Sans', sans-serif" font-size="31.5">2</text>
<text transform="translate(149.90,120.05) scale(0.95,1)" text-anchor="end" font-family="'Liberation Sans', sans-serif" font-size="31.5">3</text>
<text transform="translate(177.50,664.40) scale(0.94,1)" text-anchor="middle" font-family="'Liberation Sans', sans-serif" font-size="25">1</text>
<text transform="translate(207.96,664.40) scale(0.94,1)" text-anchor="middle" font-family="'Liberation Sans', sans-serif" font-size="25">2</text>
<text transform="translate(238.42,664.40) scale(0.94,1)" text-anchor="middle" font-family="'Liberation Sans', sans-serif" font-size="25">3</text>
<text transform="translate(268.88,664.40) scale(0.94,1)" text-anchor="middle" font-family="'Liberation Sans', sans-serif" font-size="25">4</text>
<text transform="translate(299.34,664.40) scale(0.94,1)" text-anchor="middle" font-family="'Liberation Sans', sans-serif" font-size="25">5</text>
<text transform="translate(329.80,664.40) scale(0.94,1)" text-anchor="middle" font-family="'Liberation Sans', sans-serif" font-size="25">6</text>
<text transform="translate(360.26,664.40) scale(0.94,1)" text-anchor="middle" font-family="'Liberation Sans', sans-serif" font-size="25">7</text>
<text transform="translate(390.72,664.40) scale(0.94,1)" text-anchor="middle" font-family="'Liberation Sans', sans-serif" font-size="25">8</text>
<text transform="translate(421.18,664.40) scale(0.94,1)" text-anchor="middle" font-family="'Liberation Sans', sans-serif" font-size="25">9</text>
<text transform="translate(451.64,664.40) scale(0.94,1)" text-anchor="middle" font-family="'Liberation Sans', sans-serif" font-size="25">10</text>
<text transform="translate(482.10,664.40) scale(0.94,1)" text-anchor="middle" font-family="'Liberation Sans', sans-serif" font-size="25">11</text>
<text transform="translate(512.56,664.40) scale(0.94,1)" text-anchor="middle" font-family="'Liberation Sans', sans-serif" font-size="25">12</text>
<text transform="translate(543.02,664.40) scale(0.94,1)" text-anchor="middle" font-family="'Liberation Sans', sans-serif" font-size="25">13</text>
<text transform="translate(573.48,664.40) scale(0.94,1)" text-anchor="middle" font-family="'Liberation Sans', sans-serif" font-size="25">14</text>
<text transform="translate(603.94,664.40) scale(0.94,1)" text-anchor="middle" font-family="'Liberation Sans', sans-serif" font-size="25">15</text>
<text transform="translate(634.40,664.40) scale(0.94,1)" text-anchor="middle" font-family="'Liberation Sans', sans-serif" font-size="25">16</text>
<text transform="translate(664.86,664.40) scale(0.94,1)" text-anchor="middle" font-family="'Liberation Sans', sans-serif" font-size="25">17</text>
<text transform="translate(695.32,664.40) scale(0.94,1)" text-anchor="middle" font-family="'Liberation Sans', sans-serif" font-size="25">18</text>
<text transform="translate(725.78,664.40) scale(0.94,1)" text-anchor="middle" font-family="'Liberation Sans', sans-serif" font-size="25">19</text>
<text transform="translate(428.24,699.20) scale(0.999,1)" font-family="'Liberation Sans', sans-serif" font-size="37.5">CpG</text>
<text transform="translate(123.85,473.43) rotate(-90) scale(0.963,1)" font-family="'Liberation Sans', sans-serif" font-size="37.5">% Methylation</text>
<text transform="translate(813.80,622.80) scale(0.95,1)" text-anchor="end" font-family="'Liberation Sans', sans-serif" font-size="31.5">0</text>
<text transform="translate(813.80,453.10) scale(0.95,1)" text-anchor="end" font-family="'Liberation Sans', sans-serif" font-size="31.5">1</text>
<text transform="translate(813.80,283.40) scale(0.95,1)" text-anchor="end" font-family="'Liberation Sans', sans-serif" font-size="31.5">2</text>
<text transform="translate(813.80,113.80) scale(0.95,1)" text-anchor="end" font-family="'Liberation Sans', sans-serif" font-size="31.5">3</text>
<text transform="translate(842.50,663.50) scale(0.94,1)" text-anchor="middle" font-family="'Liberation Sans', sans-serif" font-size="25">1</text>
<text transform="translate(873.26,663.50) scale(0.94,1)" text-anchor="middle" font-family="'Liberation Sans', sans-serif" font-size="25">2</text>
<text transform="translate(904.02,663.50) scale(0.94,1)" text-anchor="middle" font-family="'Liberation Sans', sans-serif" font-size="25">3</text>
<text transform="translate(934.78,663.50) scale(0.94,1)" text-anchor="middle" font-family="'Liberation Sans', sans-serif" font-size="25">4</text>
<text transform="translate(965.54,663.50) scale(0.94,1)" text-anchor="middle" font-family="'Liberation Sans', sans-serif" font-size="25">5</text>
<text transform="translate(996.30,663.50) scale(0.94,1)" text-anchor="middle" font-family="'Liberation Sans', sans-serif" font-size="25">6</text>
<text transform="translate(1027.06,663.50) scale(0.94,1)" text-anchor="middle" font-family="'Liberation Sans', sans-serif" font-size="25">7</text>
<text transform="translate(1057.82,663.50) scale(0.94,1)" text-anchor="middle" font-family="'Liberation Sans', sans-serif" font-size="25">8</text>
<text transform="translate(1088.58,663.50) scale(0.94,1)" text-anchor="middle" font-family="'Liberation Sans', sans-serif" font-size="25">9</text>
<text transform="translate(1119.34,663.50) scale(0.94,1)" text-anchor="middle" font-family="'Liberation Sans', sans-serif" font-size="25">10</text>
<text transform="translate(1150.10,663.50) scale(0.94,1)" text-anchor="middle" font-family="'Liberation Sans', sans-serif" font-size="25">11</text>
<text transform="translate(1180.86,663.50) scale(0.94,1)" text-anchor="middle" font-family="'Liberation Sans', sans-serif" font-size="25">12</text>
<text transform="translate(1211.62,663.50) scale(0.94,1)" text-anchor="middle" font-family="'Liberation Sans', sans-serif" font-size="25">13</text>
<text transform="translate(1242.38,663.50) scale(0.94,1)" text-anchor="middle" font-family="'Liberation Sans', sans-serif" font-size="25">14</text>
<text transform="translate(1273.14,663.50) scale(0.94,1)" text-anchor="middle" font-family="'Liberation Sans', sans-serif" font-size="25">15</text>
<text transform="translate(1303.90,663.50) scale(0.94,1)" text-anchor="middle" font-family="'Liberation Sans', sans-serif" font-size="25">16</text>
<text transform="translate(1334.66,663.50) scale(0.94,1)" text-anchor="middle" font-family="'Liberation Sans', sans-serif" font-size="25">17</text>
<text transform="translate(1365.42,663.50) scale(0.94,1)" text-anchor="middle" font-family="'Liberation Sans', sans-serif" font-size="25">18</text>
<text transform="translate(1396.18,663.50) scale(0.94,1)" text-anchor="middle" font-family="'Liberation Sans', sans-serif" font-size="25">19</text>
<text transform="translate(1095.74,698.20) scale(0.999,1)" font-family="'Liberation Sans', sans-serif" font-size="37.5">CpG</text>
<text transform="translate(156.60,1399.90) scale(0.95,1)" text-anchor="end" font-family="'Liberation Sans', sans-serif" font-size="32">0</text>
<text transform="translate(156.60,1274.77) scale(0.95,1)" text-anchor="end" font-family="'Liberation Sans', sans-serif" font-size="32">25</text>
<text transform="translate(156.60,1149.65) scale(0.95,1)" text-anchor="end" font-family="'Liberation Sans', sans-serif" font-size="32">50</text>
<text transform="translate(156.60,1024.52) scale(0.95,1)" text-anchor="end" font-family="'Liberation Sans', sans-serif" font-size="32">75</text>
<text transform="translate(156.60,899.40) scale(0.95,1)" text-anchor="end" font-family="'Liberation Sans', sans-serif" font-size="32">100</text>
<text transform="translate(207.50,1441.70) scale(0.97,1)" text-anchor="middle" font-family="'Liberation Sans', sans-serif" font-size="26">1</text>
<text transform="translate(274.20,1441.70) scale(0.97,1)" text-anchor="middle" font-family="'Liberation Sans', sans-serif" font-size="26">2</text>
<text transform="translate(340.90,1441.70) scale(0.97,1)" text-anchor="middle" font-family="'Liberation Sans', sans-serif" font-size="26">3</text>
<text transform="translate(407.60,1441.70) scale(0.97,1)" text-anchor="middle" font-family="'Liberation Sans', sans-serif" font-size="26">4</text>
<text transform="translate(474.30,1441.70) scale(0.97,1)" text-anchor="middle" font-family="'Liberation Sans', sans-serif" font-size="26">5</text>
<text transform="translate(541.00,1441.70) scale(0.97,1)" text-anchor="middle" font-family="'Liberation Sans', sans-serif" font-size="26">6</text>
<text transform="translate(607.70,1441.70) scale(0.97,1)" text-anchor="middle" font-family="'Liberation Sans', sans-serif" font-size="26">7</text>
<text transform="translate(674.40,1441.70) scale(0.97,1)" text-anchor="middle" font-family="'Liberation Sans', sans-serif" font-size="26">8</text>
<text transform="translate(741.10,1441.70) scale(0.97,1)" text-anchor="middle" font-family="'Liberation Sans', sans-serif" font-size="26">9</text>
<text transform="translate(433.15,1479.40) scale(1.013,1)" font-family="'Liberation Sans', sans-serif" font-size="39">CpG</text>
<text transform="translate(95.60,1256.39) rotate(-90) scale(0.975,1)" font-family="'Liberation Sans', sans-serif" font-size="39">% Methylation</text>
<text transform="translate(833.90,1400.20) scale(0.95,1)" text-anchor="end" font-family="'Liberation Sans', sans-serif" font-size="32">0</text>
<text transform="translate(833.90,1274.87) scale(0.95,1)" text-anchor="end" font-family="'Liberation Sans', sans-serif" font-size="32">25</text>
<text transform="translate(833.90,1149.55) scale(0.95,1)" text-anchor="end" font-family="'Liberation Sans', sans-serif" font-size="32">50</text>
<text transform="translate(833.90,1024.22) scale(0.95,1)" text-anchor="end" font-family="'Liberation Sans', sans-serif" font-size="32">75</text>
<text transform="translate(833.90,898.90) scale(0.95,1)" text-anchor="end" font-family="'Liberation Sans', sans-serif" font-size="32">100</text>
<text transform="translate(883.25,1441.70) scale(0.97,1)" text-anchor="middle" font-family="'Liberation Sans', sans-serif" font-size="26">1</text>
<text transform="translate(950.09,1441.70) scale(0.97,1)" text-anchor="middle" font-family="'Liberation Sans', sans-serif" font-size="26">2</text>
<text transform="translate(1016.93,1441.70) scale(0.97,1)" text-anchor="middle" font-family="'Liberation Sans', sans-serif" font-size="26">3</text>
<text transform="translate(1083.77,1441.70) scale(0.97,1)" text-anchor="middle" font-family="'Liberation Sans', sans-serif" font-size="26">4</text>
<text transform="translate(1150.61,1441.70) scale(0.97,1)" text-anchor="middle" font-family="'Liberation Sans', sans-serif" font-size="26">5</text>
<text transform="translate(1217.45,1441.70) scale(0.97,1)" text-anchor="middle" font-family="'Liberation Sans', sans-serif" font-size="26">6</text>
<text transform="translate(1284.29,1441.70) scale(0.97,1)" text-anchor="middle" font-family="'Liberation Sans', sans-serif" font-size="26">7</text>
<text transform="translate(1351.13,1441.70) scale(0.97,1)" text-anchor="middle" font-family="'Liberation Sans', sans-serif" font-size="26">8</text>
<text transform="translate(1417.97,1441.70) scale(0.97,1)" text-anchor="middle" font-family="'Liberation Sans', sans-serif" font-size="26">9</text>
<text transform="translate(1109.95,1479.40) scale(1.013,1)" font-family="'Liberation Sans', sans-serif" font-size="39">CpG</text>
<text transform="translate(2.95,85.90) scale(1.018,1)" font-family="'Liberation Sans', sans-serif" font-size="60" stroke-width="0" font-weight="bold">A</text>
<text transform="translate(739.81,85.90) scale(0.945,1)" font-family="'Liberation Sans', sans-serif" font-size="60" stroke-width="0" font-weight="bold">B</text>
<text transform="translate(4.86,878.50) scale(0.903,1)" font-family="'Liberation Sans', sans-serif" font-size="60" stroke-width="0" font-weight="bold">C</text>
<text transform="translate(737.66,878.80) scale(0.944,1)" font-family="'Liberation Sans', sans-serif" font-size="60" stroke-width="0" font-weight="bold">D</text>
<text transform="translate(198.69,213.02) scale(0.900,1.004)" font-family="'DejaVu Sans', 'Liberation Sans', sans-serif" font-size="22.0" letter-spacing="2.61" font-weight="bold" stroke="none">**</text>
<text transform="translate(233.79,291.02) scale(0.900,1.004)" font-family="'DejaVu Sans', 'Liberation Sans', sans-serif" font-size="22.0" font-weight="bold" stroke="none">*</text>
<text transform="translate(325.49,357.32) scale(0.900,1.004)" font-family="'DejaVu Sans', 'Liberation Sans', sans-serif" font-size="22.0" font-weight="bold" stroke="none">*</text>
<text transform="translate(447.24,443.57) scale(0.900,1.004)" font-family="'DejaVu Sans', 'Liberation Sans', sans-serif" font-size="22.0" font-weight="bold" stroke="none">*</text>
<text transform="translate(470.89,386.07) scale(0.900,1.004)" font-family="'DejaVu Sans', 'Liberation Sans', sans-serif" font-size="22.0" letter-spacing="2.61" font-weight="bold" stroke="none">**</text>
<text transform="translate(532.64,334.07) scale(0.900,1.004)" font-family="'DejaVu Sans', 'Liberation Sans', sans-serif" font-size="22.0" letter-spacing="2.61" font-weight="bold" stroke="none">**</text>
<text transform="translate(568.99,414.82) scale(0.900,1.004)" font-family="'DejaVu Sans', 'Liberation Sans', sans-serif" font-size="22.0" font-weight="bold" stroke="none">*</text>
<text transform="translate(690.49,359.57) scale(0.900,1.004)" font-family="'DejaVu Sans', 'Liberation Sans', sans-serif" font-size="22.0" font-weight="bold" stroke="none">*</text>
<text transform="translate(1113.49,457.82) scale(0.900,1.004)" font-family="'DejaVu Sans', 'Liberation Sans', sans-serif" font-size="22.0" font-weight="bold" stroke="none">*</text>
<text transform="translate(1175.49,529.57) scale(0.900,1.004)" font-family="'DejaVu Sans', 'Liberation Sans', sans-serif" font-size="22.0" font-weight="bold" stroke="none">*</text>
<text transform="translate(1360.99,470.82) scale(0.900,1.004)" font-family="'DejaVu Sans', 'Liberation Sans', sans-serif" font-size="22.0" font-weight="bold" stroke="none">*</text>
<text transform="translate(264.14,61.00) scale(0.948,1)" font-family="'Liberation Sans', sans-serif" font-size="32.5" stroke-width="0.45">8 CpG</text>
<text transform="translate(264.14,131.80) scale(0.948,1)" font-family="'Liberation Sans', sans-serif" font-size="32.5" stroke-width="0.45">3 CpG</text>
<text transform="translate(272.50,806.00) scale(0.943,1)" font-family="'Liberation Sans', sans-serif" font-size="30.5" stroke-width="0.45">0 CpG</text>
<text transform="translate(272.10,888.80) scale(0.940,1)" font-family="'Liberation Sans', sans-serif" font-size="30.5" stroke-width="0.45">0 CpG</text>
<text transform="translate(1469.70,542.80) scale(1.003,1)" font-family="'Liberation Sans', sans-serif" font-size="31.5">treatment</text>
<text transform="translate(1524.30,594.30) scale(1.021,1)" font-family="'Liberation Sans', sans-serif" font-size="31.5">control</text>
<text transform="translate(1524.05,634.30) scale(0.995,1)" font-family="'Liberation Sans', sans-serif" font-size="31.5">LPS</text>
<text transform="translate(1518.33,677.70) scale(0.998,1)" font-family="'Liberation Sans', sans-serif" font-size="27.8">Females</text>
<text transform="translate(1525.02,722.30) scale(1.044,1)" font-family="'Liberation Sans', sans-serif" font-size="28">Males</text>
<text transform="translate(1482.25,782.32) scale(1.067,1.122)" font-family="'DejaVu Sans', 'Liberation Sans', sans-serif" font-size="27.0" stroke-width="0.7" stroke-linejoin="round">*</text>
<text transform="translate(1482.25,827.12) scale(1.067,1.122)" font-family="'DejaVu Sans', 'Liberation Sans', sans-serif" font-size="27.0" letter-spacing="3.47" stroke-width="0.7" stroke-linejoin="round">**</text>
</svg>
</body></html>
